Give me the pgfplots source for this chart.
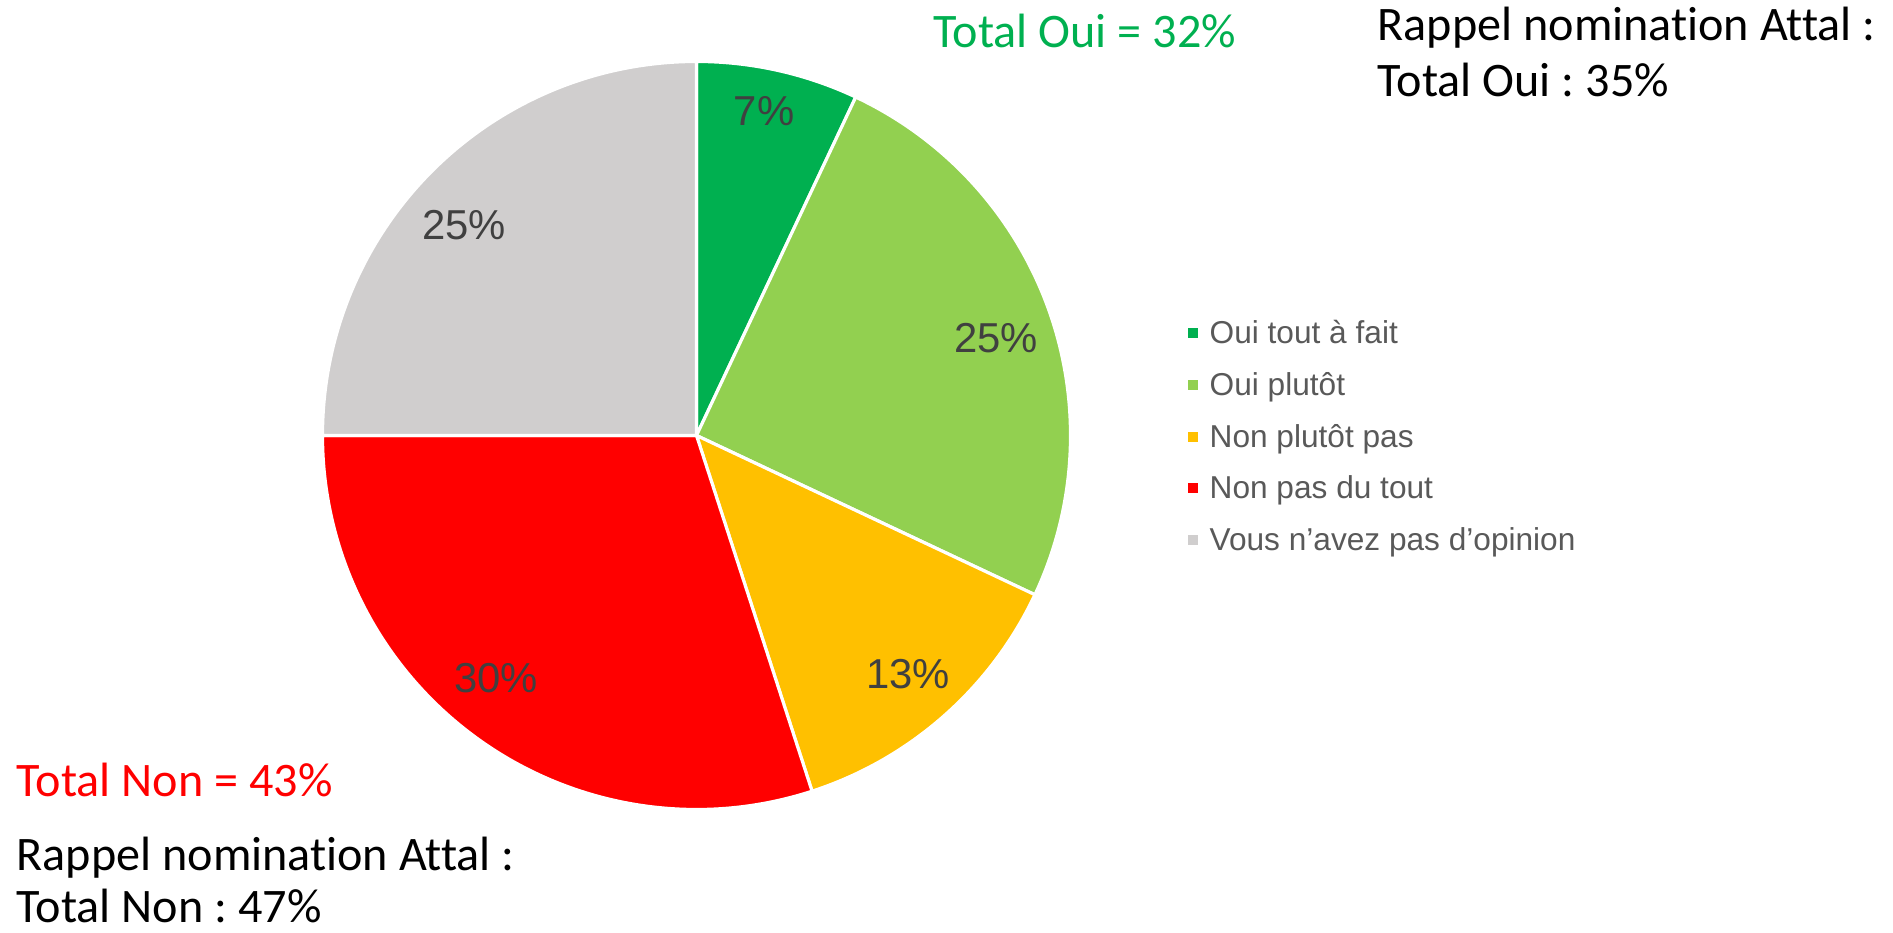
\documentclass[border=0pt]{standalone}
\usepackage{pgfplots}
\pgfplotsset{compat=1.18}
\usepackage{fontspec}
\setmainfont{Liberation Sans}
\newfontfamily\calibri[Ligatures=NoCommon]{Carlito}
\frenchspacing
\definecolor{cA}{HTML}{00B050}
\definecolor{cB}{HTML}{92D050}
\definecolor{cC}{HTML}{FFC000}
\definecolor{cD}{HTML}{FF0000}
\definecolor{cE}{HTML}{D0CECE}
\definecolor{lbltxt}{HTML}{404040}
\definecolor{legtxt}{HTML}{595959}
\tikzset{lbl/.style={text=lbltxt, inner sep=0pt, font=\fontsize{11.9}{14}\selectfont},
  ann/.style={anchor=base west, inner sep=0pt, font=\calibri\fontsize{13.7}{16}\selectfont}}
\def\R{37.4mm}
% #1 cumulative share before slice, #2 share, #3 colour, #4 label position
\newcommand\slice[4]{%
  \fill[#3, draw=white, line width=0.9pt, line join=round]
    (axis cs:696.5,497.5) -- ++({90-3.6*#1}:\R)
    arc[start angle={90-3.6*#1}, end angle={90-3.6*(#1+#2)}, radius=\R] -- cycle;
  \node[lbl] at (axis cs:#4) {#2\%};
}
\newcommand\legitem[3]{%
  \fill[#1] (axis cs:1188,#2-5) rectangle (axis cs:1198,#2+5);
  \node[anchor=base west, inner sep=0pt, text=legtxt, font=\fontsize{9.0}{10}\selectfont]
    at (axis cs:1209,#2-11) {#3};
}
\begin{document}
\begin{tikzpicture}
\path[use as bounding box] (0,0) rectangle (189.3mm,93.3mm);
\begin{axis}[
  at={(0,0)}, anchor=south west,
  scale only axis, width=189.3mm, height=93.3mm,
  xmin=0, xmax=1893, ymin=0, ymax=933,
  hide axis, clip=false,
]
\slice{0}{7}{cA}{764,822}
\slice{7}{25}{cB}{996,595}
\slice{32}{13}{cC}{908,259}
\slice{45}{30}{cD}{496,255}
\slice{75}{25}{cE}{464,708}

\legitem{cA}{600}{Oui tout à fait}
\legitem{cB}{548}{Oui plutôt}
\legitem{cC}{496}{Non plutôt pas}
\legitem{cD}{445}{Non pas du tout}
\legitem{cE}{393}{Vous n’avez pas d’opinion}

\node[ann, text=cA] at (axis cs:933,885) {Total Oui = 32\%};
\node[ann] at (axis cs:1377,892) {Rappel nomination Attal :};
\node[ann] at (axis cs:1377,836) {Total Oui : 35\%};
\node[ann, text=cD] at (axis cs:16,136) {Total Non = 43\%};
\node[ann] at (axis cs:16,62) {Rappel nomination Attal :};
\node[ann] at (axis cs:16,10) {Total Non : 47\%};
\end{axis}
\end{tikzpicture}
\end{document}
